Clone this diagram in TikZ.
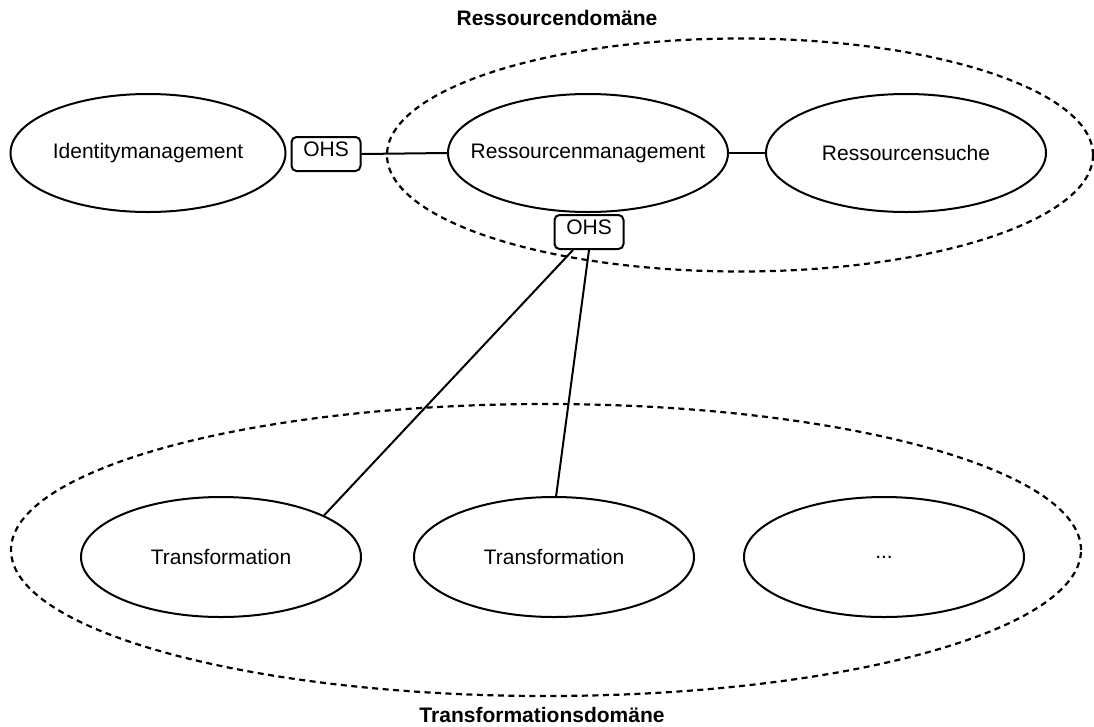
\documentclass[tikz,border=0pt]{standalone}
\usepackage{fontspec}
\setmainfont{Liberation Sans}
\usetikzlibrary{shapes.geometric}
% a label of zero width, so that the ellipse size comes from the minimum sizes
\newcommand\svclabel[1]{\makebox[0pt]{#1}}
\begin{document}
\begin{tikzpicture}[x=1pt,y=-1pt,
  every node/.style={font=\fontsize{21}{25}\selectfont},
  service/.style={ellipse,draw,line width=2pt,inner sep=0pt},
  smallsvc/.style={service,minimum width=280pt,minimum height=118pt},
  domainarea/.style={ellipse,draw,line width=2.2pt,dash pattern=on 6pt off 4.5pt,inner sep=0pt},
  ohs/.style={draw,line width=2pt,rounded corners=5pt,minimum width=69pt,minimum height=34pt,
              inner sep=0pt,text height=15pt,text depth=10pt,fill=white},
  link/.style={line width=2pt},
  domlabel/.style={font=\fontsize{21}{25}\selectfont\bfseries}]
\useasboundingbox (0,0) rectangle (1094,726);

% domains
\node[domainarea,minimum width=706pt,minimum height=233pt] (resdom) at (740,155) {};
\node[domainarea,minimum width=1070pt,minimum height=292pt] (trdom) at (546,550) {};
\node[domlabel] (resdomlbl) at (557,18) {Ressourcendomäne};
\node[domlabel] (trdomlbl) at (542,715) {Transformationsdomäne};

% services of the resource domain
\node[smallsvc,minimum width=275pt] (idm) at (148,153) {\svclabel{Identitymanagement}};
\node[smallsvc] (rm) at (588,153) {\svclabel{Ressourcenmanagement}};
\node[smallsvc] (rs) at (906,153) {\svclabel{Ressourcensuche}};

% transformation services
\node[smallsvc,minimum height=120pt] (t1) at (221,557) {\svclabel{Transformation}};
\node[smallsvc,minimum height=120pt] (t2) at (554,557) {\svclabel{Transformation}};
\node[smallsvc,minimum height=120pt] (t3) at (884,557) {\svclabel{...}};

% open host services
\node[ohs] (ohs1) at (326,154) {OHS};
\node[ohs] (ohs2) at (589,232) {OHS};

% connections
\draw[link] (ohs1.east) -- (rm.west);
\draw[link] (rm.east) -- (rs.west);
\draw[link] ([xshift=-16pt]ohs2.south) -- (t1.22);
\draw[link] (ohs2.south) -- (t2.88);
\end{tikzpicture}
\end{document}
